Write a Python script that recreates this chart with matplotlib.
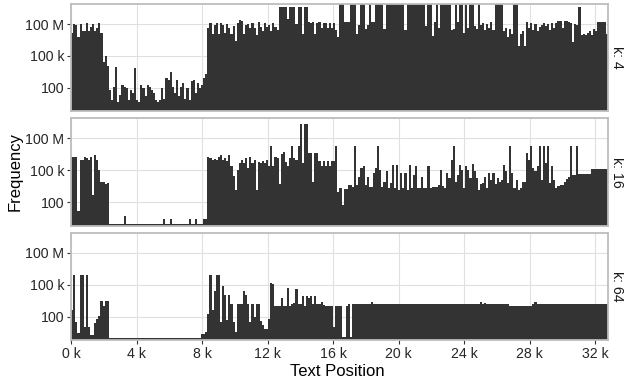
import numpy as np
import matplotlib.pyplot as plt
from matplotlib.ticker import NullLocator

plt.rcParams['font.family'] = ['Liberation Sans', 'DejaVu Sans']

# each value is log10(frequency) of one bin of 128 text positions
bin_size = 128
facet_labels = ['k: 4', 'k: 16', 'k: 64']

k4_log10 = [
    7.2, 8.0, 7.9, 6.8, 8.0, 7.3, 7.3, 8.1, 7.3, 7.7,
    8.0, 7.3, 7.6, 8.1, 7.2, 4.4, 5.0, 4.1, 1.8, 0.9,
    2.1, 4.0, 0.7, 1.3, 2.3, 2.1, 2.0, 0.9, 1.8, 1.5,
    3.85, 0.9, 0.7, 2.3, 2.0, 1.2, 2.3, 2.1, 1.8, 1.5,
    0.9, 0.7, 0.9, 2.0, 1.0, 2.9, 2.75, 3.5, 2.1, 1.5,
    2.75, 1.2, 2.1, 2.45, 1.0, 2.0, 0.9, 2.6, 2.75, 1.5,
    2.45, 2.0, 2.3, 2.9, 3.3, 7.6, 8.1, 7.1, 7.9, 8.1,
    7.1, 8.1, 7.9, 7.2, 8.0, 7.6, 7.1, 7.8, 6.4, 8.1,
    8.4, 8.3, 7.1, 7.9, 8.0, 7.6, 8.1, 7.6, 7.0, 8.2,
    7.7, 7.3, 8.1, 7.7, 7.9, 7.3, 8.1, 7.7, 7.4, 9.6,
    9.6, 9.6, 9.6, 8.5, 9.6, 9.6, 9.6, 8.0, 9.6, 9.6,
    7.1, 9.6, 9.6, 8.2, 8.1, 8.2, 7.1, 8.1, 8.2, 7.6,
    8.1, 8.1, 7.6, 8.1, 7.6, 8.1, 7.4, 6.8, 9.9, 9.9,
    8.2, 8.2, 8.2, 9.9, 9.9, 9.9, 7.1, 7.9, 9.9, 9.9,
    7.5, 7.9, 9.9, 8.2, 8.2, 9.9, 9.9, 9.9, 9.9, 7.5,
    9.9, 9.9, 9.9, 9.9, 9.9, 9.9, 9.9, 9.9, 9.9, 7.4,
    9.9, 9.9, 9.9, 9.9, 9.9, 9.9, 9.9, 9.9, 9.9, 7.8,
    9.9, 9.9, 6.9, 8.2, 9.9, 7.6, 9.9, 9.9, 9.9, 9.9,
    9.9, 7.4, 7.5, 9.9, 8.2, 9.9, 9.9, 7.2, 9.9, 7.6,
    9.9, 9.9, 7.8, 7.5, 9.9, 7.9, 8.1, 7.4, 8.0, 7.6,
    8.2, 7.4, 9.9, 9.9, 9.9, 9.9, 7.3, 7.6, 6.8, 7.5,
    7.1, 9.9, 9.9, 5.9, 7.1, 7.3, 5.9, 8.2, 7.6, 8.1,
    7.4, 8.0, 7.3, 7.7, 7.9, 8.1, 7.8, 8.0, 7.4, 8.1,
    7.6, 8.1, 8.3, 8.3, 7.6, 8.3, 8.3, 8.2, 8.1, 6.3,
    8.0, 7.9, 9.6, 7.0, 7.1, 7.0, 7.2, 7.3, 7.0, 7.5,
    7.3, 8.2, 8.2, 8.2, 8.2, 7.1,
]

k16_log10 = [
    6.3, 6.3, 6.3, 1.2, 6.0, 6.0, 6.3, 6.2, 6.0, 6.3,
    2.7, 6.45, 6.0, 5.0, 3.9, 3.9, 3.7, 3.8, 0, 0,
    0, 0, 0, 0, 0, 0.7, 0, 0, 0, 0,
    0, 0, 0, 0, 0, 0, 0, 0, 0, 0,
    0, 0, 0, 0, 0.45, 0, 0, 0.45, 0, 0,
    0, 0, 0, 0, 0, 0, 0.45, 0, 0, 0.45,
    0, 0, 0, 0.45, 0.45, 6.3, 6.15, 6.0, 6.05, 6.0,
    6.3, 6.45, 6.0, 6.15, 5.85, 6.45, 5.4, 4.45, 3.2, 5.05,
    5.7, 6.0, 5.7, 6.15, 5.2, 6.3, 5.7, 6.0, 3.2, 5.8,
    5.7, 5.9, 5.7, 6.0, 5.4, 7.25, 5.4, 6.3, 6.15, 3.7,
    6.5, 6.7, 5.8, 5.4, 6.15, 7.25, 6.2, 6.0, 7.25, 9.4,
    5.7, 9.4, 9.4, 6.6, 6.6, 3.95, 6.6, 6.6, 5.85, 5.4,
    5.85, 5.4, 5.85, 5.4, 5.85, 5.85, 7.25, 3.0, 3.35, 1.7,
    3.25, 3.25, 3.6, 3.6, 3.4, 7.25, 3.6, 4.4, 5.2, 5.4,
    3.6, 4.4, 3.4, 3.4, 4.75, 5.2, 7.25, 5.05, 3.45, 3.9,
    4.9, 3.3, 3.8, 5.55, 3.3, 5.55, 3.2, 4.75, 3.3, 4.75,
    3.15, 5.55, 3.3, 4.6, 5.4, 3.3, 3.3, 4.4, 3.3, 3.3,
    5.4, 3.3, 3.4, 3.45, 3.45, 3.6, 5.05, 3.5, 3.3, 4.75,
    4.3, 6.0, 7.25, 3.9, 4.6, 5.5, 5.05, 3.3, 5.4, 5.05,
    4.3, 5.6, 4.9, 4.3, 3.2, 3.7, 3.8, 4.4, 3.3, 4.75,
    4.1, 4.75, 3.7, 4.3, 3.9, 4.1, 5.5, 4.9, 3.8, 7.25,
    4.75, 3.3, 4.1, 3.2, 3.3, 3.9, 3.9, 6.6, 6.0, 7.25,
    5.2, 4.9, 5.4, 7.25, 4.1, 7.25, 5.7, 7.25, 3.8, 5.4,
    4.1, 3.3, 3.5, 3.6, 3.6, 3.9, 4.2, 4.4, 7.25, 4.6,
    4.6, 7.25, 4.65, 4.65, 4.65, 4.65, 4.65, 4.65, 5.1, 5.1,
    5.1, 5.1, 5.1, 5.1, 5.1, 5.1,
]

k64_log10 = [
    2.6, 5.9, 1.5, 0.5, 5.9, 5.9, 1.0, 5.9, 1.0, 0.3,
    0.3, 1.4, 1.8, 2.1, 3.5, 3.0, 3.5, 3.5, 0, 0,
    0, 0, 0, 0, 0, 0, 0, 0, 0, 0,
    0, 0, 0, 0, 0, 0, 0, 0, 0, 0,
    0, 0, 0, 0, 0, 0, 0, 0, 0, 0,
    0, 0, 0, 0, 0, 0, 0, 0, 0, 0,
    0, 0, 0.4, 0.4, 0.6, 2.3, 5.9, 2.6, 4.4, 5.9,
    5.9, 1.5, 4.9, 4.0, 1.7, 4.0, 3.2, 1.5, 0.6, 3.2,
    3.2, 3.2, 4.4, 4.0, 3.15, 1.5, 3.15, 2.0, 3.15, 3.15,
    1.6, 1.2, 0.8, 0.8, 1.8, 5.15, 5.1, 3.05, 3.05, 3.05,
    3.8, 3.05, 3.05, 4.7, 3.05, 3.2, 3.3, 4.6, 3.2, 3.2,
    3.9, 3.05, 3.9, 3.8, 3.9, 3.2, 3.9, 3.2, 3.2, 3.4,
    3.1, 3.05, 3.05, 3.05, 3.05, 1.0, 3.05, 3.05, 3.05, 0.1,
    0.1, 3.05, 3.15, 0.1, 3.15, 3.15, 3.15, 3.15, 3.15, 3.15,
    3.15, 3.15, 3.15, 3.4, 3.15, 3.15, 3.15, 3.15, 3.15, 3.15,
    3.15, 3.15, 3.15, 3.15, 3.15, 3.15, 3.15, 3.15, 3.15, 3.15,
    3.15, 3.15, 3.15, 3.15, 3.15, 3.15, 3.15, 3.15, 3.15, 3.15,
    3.15, 3.15, 3.15, 3.15, 3.15, 3.15, 3.15, 3.15, 3.15, 3.15,
    3.15, 3.15, 3.15, 3.15, 3.15, 3.15, 3.15, 3.15, 3.15, 3.15,
    3.15, 3.15, 3.15, 3.15, 3.15, 3.35, 3.15, 3.3, 3.15, 3.15,
    3.15, 3.15, 3.15, 3.15, 3.15, 3.15, 3.15, 3.15, 3.15, 3.05,
    3.05, 3.05, 3.05, 3.05, 3.05, 3.05, 3.05, 3.05, 3.05, 3.05,
    3.15, 3.35, 3.15, 3.15, 3.15, 3.15, 3.15, 3.15, 3.15, 3.15,
    3.15, 3.15, 3.15, 3.15, 3.15, 3.15, 3.15, 3.15, 3.2, 3.15,
    3.15, 3.15, 3.15, 3.15, 3.15, 3.15, 3.15, 3.15, 3.15, 3.15,
    3.15, 3.15, 3.15, 3.15, 3.15, 3.15,
]

y_ticks = [1e2, 1e5, 1e8]
y_tick_labels = ['100', '100 k', '100 M']
x_ticks = [0, 4000, 8000, 12000, 16000, 20000, 24000, 28000, 32000]
x_tick_labels = ['0 k', '4 k', '8 k', '12 k', '16 k', '20 k', '24 k', '28 k', '32 k']

fig, axes = plt.subplots(3, 1, figsize=(6.24, 3.83), dpi=100, sharex=True, sharey=True)
fig.subplots_adjust(left=0.114, right=0.974, top=0.99, bottom=0.112, hspace=0.065)

for i, (ax, vals, lab) in enumerate(zip(axes, [k4_log10, k16_log10, k64_log10], facet_labels)):
    counts = 10 ** np.asarray(vals, dtype=float)
    pos = np.arange(len(counts)) * bin_size
    ax.bar(pos, counts - 0.1, width=bin_size, bottom=0.1, align='edge',
           color='#333333', linewidth=0, antialiased=False)
    ax.set_yscale('log')
    ax.set_ylim(10 ** -0.2, 10 ** 9.9)
    ax.set_xlim(0, len(counts) * bin_size)
    ax.set_yticks(y_ticks)
    ax.set_yticklabels(y_tick_labels)
    ax.yaxis.set_minor_locator(NullLocator())
    ax.set_xticks(x_ticks)
    ax.set_xticklabels(x_tick_labels)
    ax.grid(True, which='major', color='#E0E0E0', linewidth=0.8)
    ax.set_axisbelow(True)
    for sp in ax.spines.values():
        sp.set_color('#BDBDBD')
        sp.set_linewidth(1.3)
    ax.tick_params(axis='y', length=3, width=0.8, color='#333333',
                   labelsize=10.2, labelcolor='#262626', pad=2)
    if i < 2:
        ax.tick_params(axis='x', length=0)
    else:
        ax.tick_params(axis='x', length=3, width=0.8, color='#333333',
                       labelsize=10.2, labelcolor='#262626', pad=2)
    ax.text(1.017, 0.5, lab, transform=ax.transAxes, rotation=-90,
            ha='center', va='center', fontsize=10.2, color='#1A1A1A')

fig.text(0.025, 0.551, 'Frequency', rotation=90, ha='center', va='center', fontsize=12)
fig.text(0.54, 0.029, 'Text Position', ha='center', va='center', fontsize=12)

fig.savefig('out.png', dpi=100)
